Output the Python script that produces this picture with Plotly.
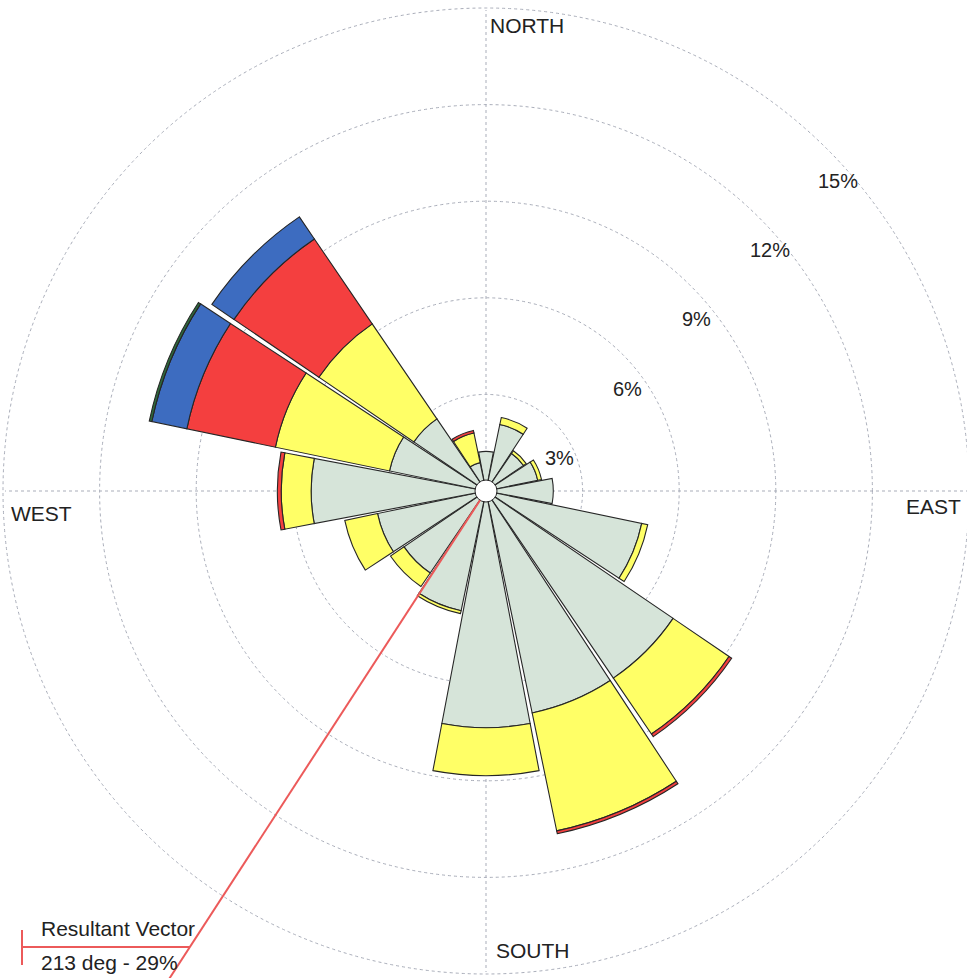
import math
import plotly.graph_objects as go

# ---------------- data ----------------
DIRECTIONS = ["N", "NNE", "NE", "ENE", "E", "ESE", "SE", "SSE",
              "S", "SSW", "SW", "WSW", "W", "WNW", "NW", "NNW"]
# frequency (%) per speed class, per direction
CLASS_1 = [1.23, 2.11, 1.41, 1.64, 2.09, 4.94, 7.03, 7.04, 7.35, 3.80, 3.08, 3.44, 5.43, 3.06, 2.71, 0.90]
CLASS_2 = [None, 0.22, 0.10, 0.12, None, 0.19, 2.10, 3.74, 1.49, 0.09, 0.51, 1.04, 0.93, 3.62, 3.57, 0.94]
CLASS_3 = [None, None, None, None, None, None, 0.10, 0.09, None, None, None, None, 0.12, 2.81, 3.19, 0.08]
CLASS_4 = [None, None, None, None, None, None, None, None, None, None, None, None, None, 1.11, 0.83, None]
CLASS_5 = [None, None, None, None, None, None, None, None, None, None, None, None, None, 0.08, None, None]

RING_PCTS = [3, 6, 9, 12, 15]
RING_LABELS = [f"{v}%" for v in RING_PCTS]
COMPASS_LABELS = ["NORTH", "EAST", "SOUTH", "WEST"]

RESULTANT_DIR = 213   # degrees
RESULTANT_PCT = 29    # percent

# ---------------- style / layout ----------------
W, H = 967, 978
CX, CY = 486, 491          # polar centre (px)
R_PX = 481                 # polar radius (px)
SCALE = 32.2               # px per percent
R_MAX = R_PX / SCALE

CLASS_COLORS = ["#d6e4d9", "#ffff66", "#f43f3f", "#3d6cc0", "#2d6a3c"]
EDGE = "#262626"
GRID = "#a9adb9"
FONT = "Arial, Liberation Sans, sans-serif"
BAR_WIDTH = 21.5

theta = [i * 360 / len(DIRECTIONS) for i in range(len(DIRECTIONS))]

fig = go.Figure()
for vals, col in zip([CLASS_1, CLASS_2, CLASS_3, CLASS_4, CLASS_5], CLASS_COLORS):
    fig.add_trace(go.Barpolar(
        r=vals, theta=theta, width=[BAR_WIDTH] * len(theta),
        marker=dict(color=col, line=dict(color=EDGE, width=1.1)),
        showlegend=False, hoverinfo="skip"))

# white hub in the centre
fig.add_trace(go.Scatterpolar(
    r=[0], theta=[0], mode="markers",
    marker=dict(size=22, color="white", line=dict(color=EDGE, width=1)),
    showlegend=False, hoverinfo="skip"))

fig.update_layout(
    width=W, height=H,
    margin=dict(l=0, r=0, t=0, b=0),
    paper_bgcolor="white", plot_bgcolor="rgba(0,0,0,0)",
    showlegend=False,
    polar=dict(
        domain=dict(x=[(CX - R_PX) / W, min(1.0, (CX + R_PX) / W)],
                    y=[(H - CY - R_PX) / H, (H - CY + R_PX) / H]),
        bgcolor="rgba(0,0,0,0)",
        barmode="stack",
        radialaxis=dict(range=[0, R_MAX], tickmode="array", tickvals=RING_PCTS,
                        showticklabels=False, ticks="", showline=False,
                        gridcolor=GRID, gridwidth=1, griddash="3px,3px",
                        layer="below traces"),
        angularaxis=dict(direction="clockwise", rotation=90,
                         tickmode="array", tickvals=[0, 90, 180, 270],
                         showticklabels=False, ticks="", showline=False,
                         gridcolor=GRID, gridwidth=1, griddash="3px,3px",
                         layer="below traces"),
    ),
    # cartesian overlay with the same px-per-percent scale, centred on the rose
    xaxis=dict(domain=[0, 1], range=[-CX / SCALE, (W - CX) / SCALE], visible=False, fixedrange=True),
    yaxis=dict(domain=[0, 1], range=[-(H - CY) / SCALE, CY / SCALE], visible=False, fixedrange=True),
)

# outermost ring (15%) that lies at the edge of the rose
r_out = RING_PCTS[-1]
fig.add_shape(type="circle", xref="x", yref="y", layer="below",
              x0=-r_out, y0=-r_out, x1=r_out, y1=r_out,
              line=dict(color=GRID, width=1, dash="3px,3px"))

# resultant vector line (above the bars)
th = math.radians(RESULTANT_DIR)
r0 = 11 / SCALE
fig.add_shape(type="line", xref="x", yref="y", layer="above",
              x0=r0 * math.sin(th), y0=r0 * math.cos(th),
              x1=RESULTANT_PCT * math.sin(th), y1=RESULTANT_PCT * math.cos(th),
              line=dict(color="#ec5a5a", width=2))

# legend marker for resultant vector
LEG_Y_PX = 947
leg_y = (H - LEG_Y_PX - (H - CY)) / SCALE
leg_x_end = leg_y * math.tan(th)
fig.add_shape(type="line", xref="x", yref="y", layer="above",
              x0=(22 - CX) / SCALE, y0=leg_y, x1=leg_x_end, y1=leg_y,
              line=dict(color="#ec5a5a", width=2))
fig.add_shape(type="line", xref="paper", yref="paper", layer="above",
              x0=22 / W, x1=22 / W, y0=1 - 930 / H, y1=1 - 965 / H,
              line=dict(color="#ec5a5a", width=2))

def ann(text, px, py, size, xanchor="center"):
    fig.add_annotation(text=text, x=px / W, y=1 - py / H, xref="paper", yref="paper",
                       xanchor=xanchor, yanchor="middle", showarrow=False,
                       font=dict(family=FONT, size=size, color="#222222"))

ring_pos = [(559, 458), (627, 389), (696, 319), (770, 250), (838, 181)]
for lab, (px, py) in zip(RING_LABELS, ring_pos):
    ann(lab, px, py, 20)

compass_pos = [(527, 25), (933, 506), (533, 950), (41, 513)]
for lab, (px, py) in zip(COMPASS_LABELS, compass_pos):
    ann(lab, px, py, 21)

ann("Resultant Vector", 39, 928, 21, xanchor="left")
ann(f"{RESULTANT_DIR} deg - {RESULTANT_PCT}%", 39, 962, 21, xanchor="left")

fig.write_html("out.html",
               config={"displayModeBar": False},
               post_script="document.body.style.margin='0px';document.body.style.overflow='hidden';")
